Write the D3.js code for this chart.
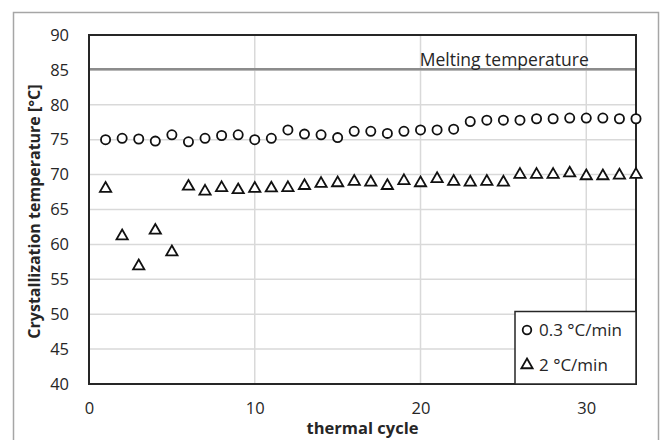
<!DOCTYPE html>
<html>
<head>
<meta charset="utf-8">
<script src="https://cdn.jsdelivr.net/npm/d3@7"></script>
<style>
  html, body { margin: 0; padding: 0; background: #fff; }
  svg { display: block; }
  text { font-family: "Open Sans", "Noto Sans", sans-serif; fill: #262626; }
</style>
</head>
<body>
<svg id="chart" width="665" height="440"></svg>
<script>
const cycles = d3.range(1, 34);
const slowRate = [75.0, 75.2, 75.1, 74.8, 75.7, 74.7, 75.2, 75.6, 75.7, 75.0, 75.2, 76.4,
  75.8, 75.7, 75.3, 76.2, 76.2, 75.9, 76.2, 76.4, 76.4, 76.5, 77.6, 77.8, 77.8, 77.8,
  78.0, 78.0, 78.1, 78.1, 78.1, 78.0, 78.0];
const fastRate = [68.0, 61.2, 56.9, 62.0, 58.9, 68.3, 67.6, 68.1, 67.8, 68.0, 68.05, 68.1,
  68.4, 68.7, 68.8, 69.0, 68.9, 68.4, 69.1, 68.8, 69.4, 69.0, 68.9, 69.0, 68.9, 70.0,
  70.0, 70.0, 70.2, 69.8, 69.8, 69.9, 70.0];
const meltingTemp = 85.1;
const xTicks = [0, 10, 20, 30];
const yTicks = [40, 45, 50, 55, 60, 65, 70, 75, 80, 85, 90];
const seriesNames = ["0.3 °C/min", "2 °C/min"];

const svg = d3.select("#chart");
const m = { left: 89, top: 35, right: 636, bottom: 384 };

const x = d3.scaleLinear().domain([0, 33]).range([m.left, m.right]);
const y = d3.scaleLinear().domain([40, 90]).range([m.bottom, m.top]);

// outer frame
svg.append("rect").attr("x", 13.5).attr("y", 12.5).attr("width", 645).attr("height", 440)
  .attr("fill", "none").attr("stroke", "#a6a6a6").attr("stroke-width", 1.5);

// grid
const grid = svg.append("g");
grid.selectAll("line.h").data(yTicks).join("line")
  .attr("x1", m.left).attr("x2", m.right)
  .attr("y1", d => y(d)).attr("y2", d => y(d))
  .attr("stroke", "#d9d9d9").attr("stroke-width", 1.5);
grid.selectAll("line.v").data(xTicks.filter(d => d > 0)).join("line")
  .attr("y1", m.top).attr("y2", m.bottom)
  .attr("x1", d => x(d)).attr("x2", d => x(d))
  .attr("stroke", "#d9d9d9").attr("stroke-width", 1.5);

// melting line
svg.append("line").attr("x1", m.left).attr("x2", m.right)
  .attr("y1", y(meltingTemp)).attr("y2", y(meltingTemp))
  .attr("stroke", "#8c8c8c").attr("stroke-width", 2.5);
svg.append("text").attr("x", x(19.95)).attr("y", y(meltingTemp) - 3)
  .attr("font-size", 17.5).attr("fill", "#404040").text("Melting temperature");

// axes
const yAxis = d3.axisLeft(y).tickValues(yTicks).tickSize(0).tickPadding(20);
const gy = svg.append("g").attr("transform", `translate(${m.left},0)`).call(yAxis);
gy.select(".domain").remove();
gy.selectAll("text").attr("font-size", 16.5).attr("fill", "#262626")
  .style("font-family", '"Open Sans", sans-serif');

const xAxis = d3.axisBottom(x).tickValues(xTicks).tickSize(0).tickPadding(18);
const gx = svg.append("g").attr("transform", `translate(0,${m.bottom})`).call(xAxis);
gx.select(".domain").remove();
gx.selectAll("text").attr("font-size", 16.5).attr("fill", "#262626")
  .style("font-family", '"Open Sans", sans-serif');

// plot frame
svg.append("rect").attr("x", m.left).attr("y", m.top)
  .attr("width", m.right - m.left).attr("height", m.bottom - m.top)
  .attr("fill", "none").attr("stroke", "#262626").attr("stroke-width", 2);

// titles
svg.append("text").attr("x", (m.left + m.right) / 2).attr("y", 434)
  .attr("text-anchor", "middle").attr("font-size", 16.5).attr("font-weight", "bold")
  .text("thermal cycle");
svg.append("text").attr("transform", `translate(40,${(m.top + m.bottom) / 2 + 2}) rotate(-90)`)
  .attr("text-anchor", "middle").attr("font-size", 16).attr("font-weight", "bold")
  .text("Crystallization temperature [°C]");

// markers
const tri = d3.symbol().type(d3.symbolTriangle).size(55);
svg.append("g").selectAll("circle").data(cycles).join("circle")
  .attr("cx", d => x(d)).attr("cy", (d, i) => y(slowRate[i])).attr("r", 4.6)
  .attr("fill", "#fff").attr("stroke", "#111").attr("stroke-width", 1.8);
svg.append("g").selectAll("path").data(cycles).join("path")
  .attr("d", tri)
  .attr("transform", (d, i) => `translate(${x(d)},${y(fastRate[i])})`)
  .attr("fill", "#fff").attr("stroke", "#111").attr("stroke-width", 1.8);

// legend
const lg = svg.append("g");
lg.append("rect").attr("x", 515).attr("y", 311.5).attr("width", 121).attr("height", 72.5)
  .attr("fill", "#fff").attr("stroke", "#262626").attr("stroke-width", 1.5);
lg.append("circle").attr("cx", 527).attr("cy", 330).attr("r", 4.3)
  .attr("fill", "#fff").attr("stroke", "#111").attr("stroke-width", 1.8);
lg.append("path").attr("d", tri).attr("transform", "translate(527,365)")
  .attr("fill", "#fff").attr("stroke", "#111").attr("stroke-width", 1.8);
lg.append("text").attr("x", 539).attr("y", 336).attr("font-size", 17).text(seriesNames[0]);
lg.append("text").attr("x", 539).attr("y", 371).attr("font-size", 17).text(seriesNames[1]);
</script>
</body>
</html>
